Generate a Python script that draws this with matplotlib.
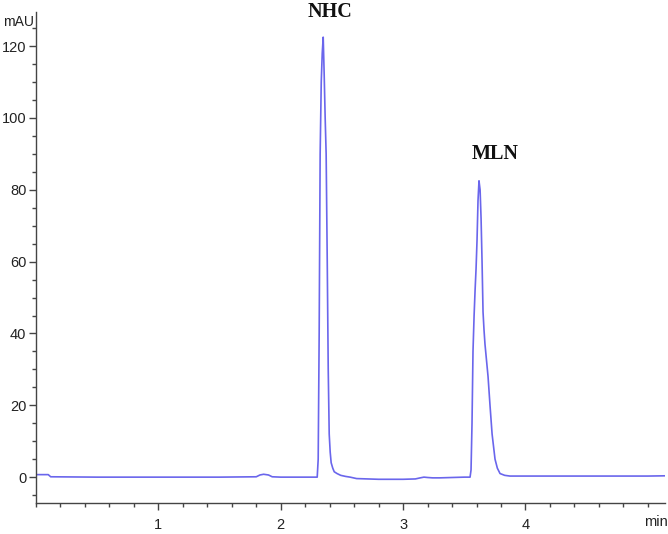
import matplotlib
matplotlib.use("Agg")
import matplotlib.pyplot as plt
from matplotlib.ticker import MultipleLocator

# Retention time (min) and absorbance (mAU)
time_min = [0.00, 0.10, 0.12, 0.50, 1.00, 1.50, 1.80, 1.83, 1.86, 1.90, 1.93,
            2.00, 2.20, 2.298, 2.306, 2.314, 2.322, 2.331, 2.339, 2.347, 2.355,
            2.363, 2.371, 2.380, 2.388, 2.396, 2.404, 2.412, 2.425, 2.437, 2.46,
            2.49, 2.53, 2.567, 2.62, 2.80, 3.00, 3.10, 3.14, 3.17, 3.20, 3.24,
            3.30, 3.40, 3.50, 3.547, 3.555, 3.563, 3.571, 3.580, 3.588, 3.596,
            3.604, 3.612, 3.620, 3.629, 3.637, 3.645, 3.653, 3.661, 3.669, 3.694,
            3.710, 3.727, 3.751, 3.77, 3.792, 3.83, 3.873, 4.00, 4.50, 5.00, 5.20]
absorbance = [0.7, 0.7, 0.1, 0.0, 0.0, 0.0, 0.1, 0.6, 0.8, 0.6, 0.1,
              0.0, 0.0, 0.0, 5.0, 40.0, 90.0, 110.0, 118.0, 122.5, 112.0,
              100.0, 90.0, 60.0, 30.0, 12.0, 7.0, 4.0, 2.5, 1.5, 1.0,
              0.5, 0.2, 0.0, -0.4, -0.6, -0.6, -0.5, -0.2, 0.0, -0.1, -0.2,
              -0.2, -0.1, 0.0, 0.0, 2.0, 15.0, 35.0, 45.0, 52.0, 58.0,
              66.0, 77.0, 82.5, 80.0, 72.0, 60.0, 46.0, 41.0, 37.0, 28.0,
              20.0, 12.0, 5.0, 2.5, 1.0, 0.5, 0.3, 0.3, 0.3, 0.3, 0.4]

peak_labels = ["NHC", "MLN"]
peak_label_times = [2.404, 3.751]
peak_label_heights = [128.0, 88.5]

xticks = [1, 2, 3, 4]
yticks = [0, 20, 40, 60, 80, 100, 120]

W, H = 668, 534
fig = plt.figure(figsize=(W / 100, H / 100), dpi=100)
left, right, bottom, top = 36, 665, 503, 12
ax = fig.add_axes([left / W, (H - bottom) / H, (right - left) / W, (bottom - top) / H])

ax.plot(time_min, absorbance, color="#6a66ec", lw=1.2)

ax.set_xlim(0, 5.14)
ax.set_ylim(-7.2, 129.5)
ax.set_xticks(xticks)
ax.set_yticks(yticks)
ax.xaxis.set_minor_locator(MultipleLocator(0.2))
ax.yaxis.set_minor_locator(MultipleLocator(5))

for s in ["top", "right"]:
    ax.spines[s].set_visible(False)
for s in ["left", "bottom"]:
    ax.spines[s].set_color("#444444")
    ax.spines[s].set_linewidth(1.0)

tick_font = "Liberation Sans"
ax.tick_params(axis="both", which="major", length=5, width=1, color="#444444",
               labelsize=10.5, labelcolor="#222222")
ax.tick_params(axis="both", which="minor", length=3, width=1, color="#444444")
ax.tick_params(axis="x", pad=6)
ax.tick_params(axis="y", pad=2)
for lab in ax.get_xticklabels() + ax.get_yticklabels():
    lab.set_fontfamily(tick_font)

for name, t, h in zip(peak_labels, peak_label_times, peak_label_heights):
    ax.text(t, h, name, ha="center", va="baseline", fontsize=14.5,
            fontweight="bold", family="Liberation Serif", color="#111111",
            clip_on=False)

fig.text(3 / W, (H - 22) / H, "mAU", ha="left", va="center", fontsize=10,
         family=tick_font, color="#222222")
fig.text(644 / W, (H - 522) / H, "min", ha="left", va="center", fontsize=10.5,
         family=tick_font, color="#222222")

fig.savefig("out.png", dpi=100)
